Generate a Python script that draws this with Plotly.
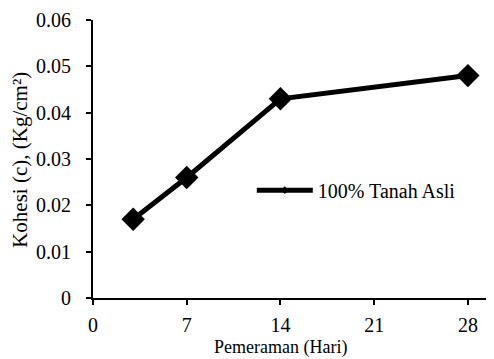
import plotly.graph_objects as go

days = [3, 7, 14, 28]
kohesi = [0.017, 0.026, 0.043, 0.048]
series_name = "100% Tanah Asli"
x_title = "Pemeraman (Hari)"
y_title = "Kohesi (c), (Kg/cm²)"
x_ticks = [0, 7, 14, 21, 28]
y_ticks = [0, 0.01, 0.02, 0.03, 0.04, 0.05, 0.06]
y_tick_text = ["0", "0.01", "0.02", "0.03", "0.04", "0.05", "0.06"]

fig = go.Figure()
fig.add_trace(go.Scatter(
    x=days, y=kohesi, mode="lines+markers", name=series_name,
    line=dict(color="black", width=5),
    marker=dict(symbol="diamond", size=18, color="black"),
    showlegend=False,
))
# legend entry (small marker like the original)
fig.add_trace(go.Scatter(
    x=[None], y=[None], mode="lines+markers", name=series_name,
    line=dict(color="black", width=5),
    marker=dict(symbol="diamond", size=6, color="black"),
    showlegend=True,
))

tick_font = dict(family="Liberation Serif", size=20, color="black")
fig.update_layout(
    width=486, height=351,
    margin=dict(l=85, r=2, t=12, b=61),
    paper_bgcolor="white", plot_bgcolor="white",
    font=tick_font,
    showlegend=True,
    legend=dict(x=0.398, y=0.388, xanchor="left", yanchor="middle",
                bgcolor="rgba(0,0,0,0)", font=tick_font, itemwidth=56,
                itemsizing="trace"),
    xaxis=dict(range=[0, 29.8], tickvals=x_ticks, ticktext=[str(v) for v in x_ticks],
               showline=True, linecolor="black", linewidth=2,
               ticks="outside", ticklen=5, tickwidth=1.5, tickcolor="black",
               tickfont=tick_font, ticklabelstandoff=3,
               showgrid=False, zeroline=False, automargin=False),
    yaxis=dict(range=[0, 0.06], tickvals=y_ticks, ticktext=y_tick_text,
               showline=True, linecolor="black", linewidth=2,
               ticks="outside", ticklen=5, tickwidth=1.5, tickcolor="black",
               tickfont=tick_font, ticklabelstandoff=11,
               showgrid=False, zeroline=False, automargin=False),
    annotations=[
        dict(text=x_title, xref="paper", yref="paper", x=0.469, y=-0.178,
             xanchor="center", yanchor="middle", showarrow=False,
             font=dict(family="Liberation Serif", size=18, color="black")),
        dict(text=y_title, xref="paper", yref="paper", x=-0.183, y=0.497,
             xanchor="center", yanchor="middle", showarrow=False, textangle=-90,
             font=dict(family="Liberation Serif", size=21, color="black")),
    ],
)
fig.write_html("out.html")
